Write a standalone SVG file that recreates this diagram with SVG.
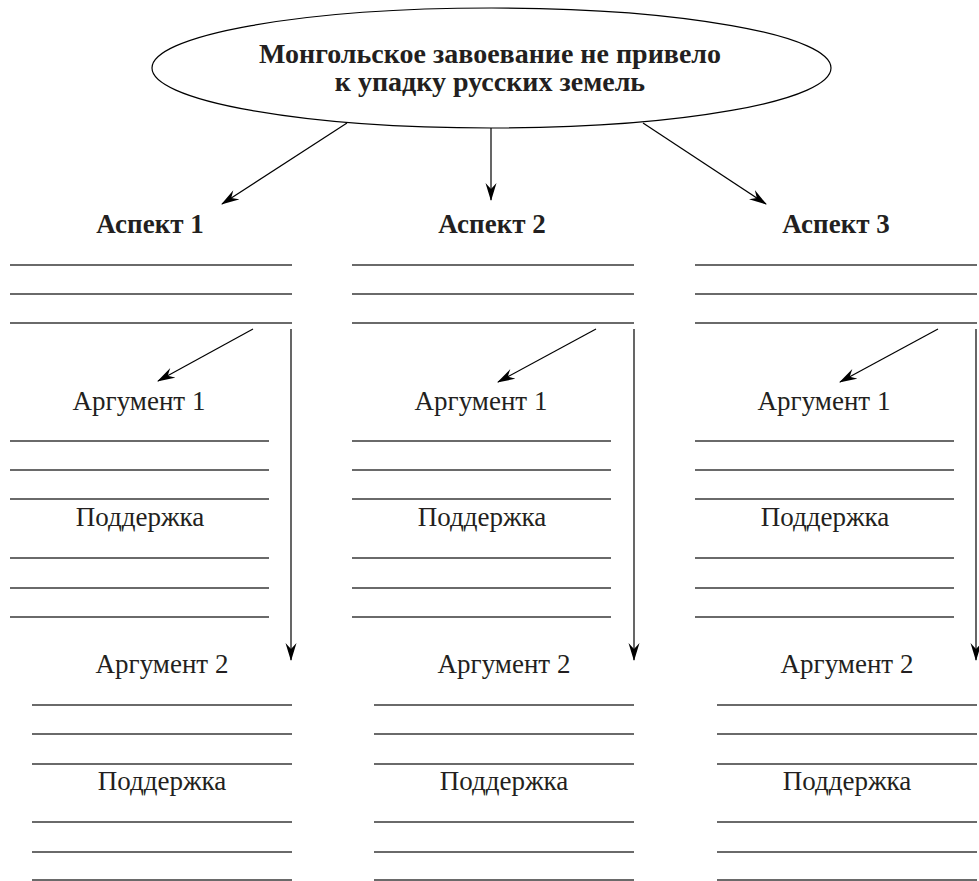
<svg xmlns="http://www.w3.org/2000/svg" width="979" height="881" viewBox="0 0 979 881">
<defs>
<style>
.t{font-family:"Liberation Serif","DejaVu Serif",serif;fill:#231f20;text-anchor:middle}
.b{font-weight:bold;font-size:27px}
.h{font-weight:bold;font-size:28px}
.r{font-size:27px}
.ln{stroke:#3a3a3a;stroke-width:1.3;fill:none}
.ar{stroke:#000;stroke-width:1.2;fill:none;marker-end:url(#ah)}
</style>
<marker id="ah" markerUnits="userSpaceOnUse" markerWidth="18" markerHeight="12" refX="17" refY="6" orient="auto">
<path d="M0,0.5 L18,6 L0,11.5 L6,6 z" fill="#000"/>
</marker>
<g id="col">
<g class="lines-top"><path class="ln" d="M10,265H292M10,294H292M10,323H292"/></g>
<g class="arg1"><text class="t r" x="139" y="410">Аргумент 1</text><path class="ln" d="M10,441H269M10,470H269M10,499H269"/></g>
<g class="sup1"><text class="t r" x="140" y="526">Поддержка</text><path class="ln" d="M10,558H269M10,588H269M10,617H269"/></g>
<g class="arg2"><text class="t r" x="162" y="673">Аргумент 2</text><path class="ln" d="M32,705H292M32,734H292M32,764H292"/></g>
<g class="sup2"><text class="t r" x="162" y="790">Поддержка</text><path class="ln" d="M32,822H292M32,852H292M32,880H292"/></g>
</g>
</defs>
<rect width="979" height="881" fill="#fff"/>
<g id="title">
<ellipse cx="491.5" cy="68" rx="339.5" ry="60" fill="#fff" stroke="#000" stroke-width="1.2"/>
<text class="t h" x="490" y="63">Монгольское завоевание не привело</text>
<text class="t h" x="490" y="91">к упадку русских земель</text>
</g>
<g id="aspect1">
<text class="t b" x="150" y="233">Аспект 1</text>
<use href="#col"/>
</g>
<g id="aspect2">
<text class="t b" x="492" y="233">Аспект 2</text>
<use href="#col" transform="translate(342,0)"/>
</g>
<g id="aspect3">
<text class="t b" x="836" y="233">Аспект 3</text>
<use href="#col" transform="translate(685,0)"/>
</g>
<g id="connectors">
<path class="ar" d="M347,123L222,204"/>
<path class="ar" d="M491,128V200"/>
<path class="ar" d="M643,123L766,204"/>
<path class="ar" d="M253,329L158,381"/>
<path class="ar" d="M291,329V660"/>
<path class="ar" d="M596,329L498,382"/>
<path class="ar" d="M634,329V660"/>
<path class="ar" d="M938,329L840,382"/>
<path class="ar" d="M976,329V660"/>
</g>
</svg>
